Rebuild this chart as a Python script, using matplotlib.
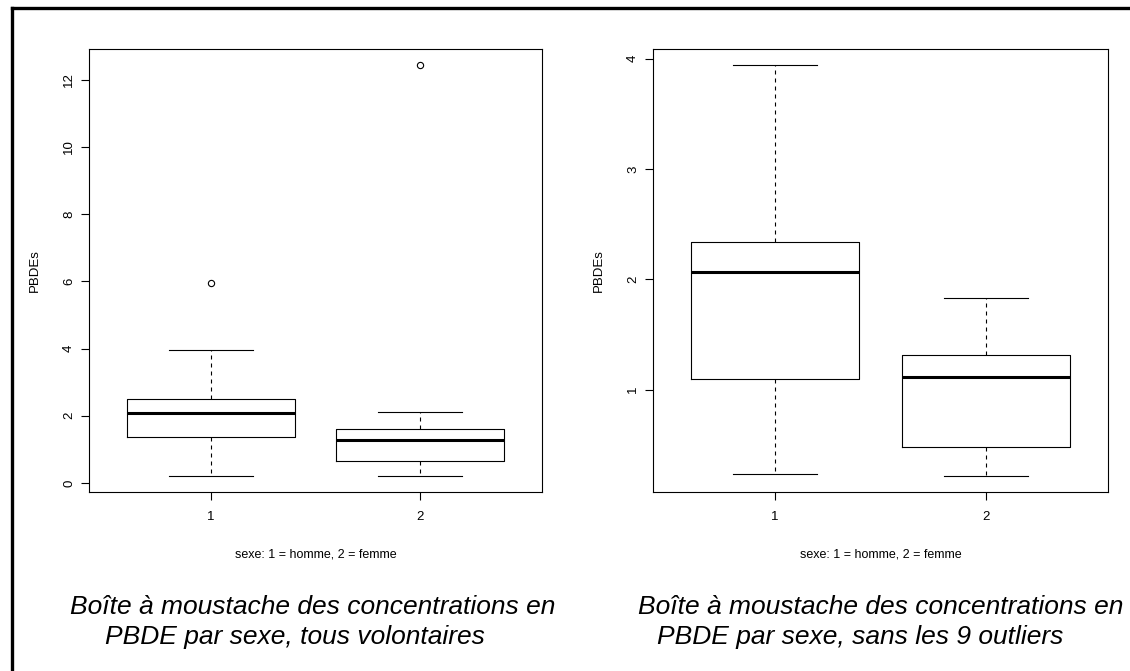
import matplotlib
matplotlib.use("Agg")
import matplotlib.pyplot as plt
from matplotlib.lines import Line2D

plt.rcParams['font.family'] = ['Liberation Sans', 'DejaVu Sans']

groups = [1, 2]
group_labels = ['1', '2']

# tous volontaires
all_low = [0.22, 0.22]
all_q1 = [1.36, 0.64]
all_med = [2.09, 1.28]
all_q3 = [2.49, 1.60]
all_high = [3.95, 2.12]
all_outliers = [[5.96], [12.43]]

# sans les 9 outliers
clean_low = [0.23, 0.22]
clean_q1 = [1.10, 0.48]
clean_med = [2.07, 1.11]
clean_q3 = [2.34, 1.31]
clean_high = [3.94, 1.83]
clean_outliers = [[], []]

all_yticks = [0, 2, 4, 6, 8, 10, 12]
clean_yticks = [1, 2, 3, 4]

ylabel = 'PBDEs'
xlabel = 'sexe: 1 = homme, 2 = femme'
caption_left = ['Boîte à moustache des concentrations en',
                'PBDE par sexe, tous volontaires']
caption_right = ['Boîte à moustache des concentrations en',
                 'PBDE par sexe, sans les 9 outliers']


def make_stats(low, q1, med, q3, high, fliers):
    stats = []
    for i in range(len(med)):
        stats.append({'whislo': low[i], 'q1': q1[i], 'med': med[i],
                      'q3': q3[i], 'whishi': high[i], 'fliers': fliers[i]})
    return stats


def draw_box(ax, stats, yticks):
    ax.bxp(stats, positions=groups, widths=0.8, capwidths=0.4,
           showfliers=True, patch_artist=False,
           boxprops=dict(color='black', linewidth=0.8),
           whiskerprops=dict(color='black', linewidth=0.8, linestyle=(0, (3.6, 3.6))),
           capprops=dict(color='black', linewidth=0.8),
           medianprops=dict(color='black', linewidth=2.2, solid_capstyle='butt'),
           flierprops=dict(marker='o', markerfacecolor='none', markeredgecolor='black',
                           markersize=4.5, markeredgewidth=0.8))
    # limites comme R (4% en plus)
    lo = min(min(s['whislo'] for s in stats), min([min(s['fliers']) for s in stats if len(s['fliers'])] or [99]))
    hi = max(max(s['whishi'] for s in stats), max([max(s['fliers']) for s in stats if len(s['fliers'])] or [-99]))
    span = hi - lo
    ax.set_ylim(lo - 0.04 * span, hi + 0.04 * span)
    ax.set_xlim(0.42, 2.58)
    ax.set_xticks(groups)
    ax.set_xticklabels(group_labels)
    ax.set_yticks(yticks)
    ax.set_yticklabels([str(t) for t in yticks])
    ax.tick_params(axis='y', labelrotation=90, length=6, width=0.8, pad=4, labelsize=9.5)
    ax.tick_params(axis='x', length=6, width=0.8, pad=8, labelsize=9.5)
    for lab in ax.get_yticklabels():
        lab.set_va('center')
    for sp in ax.spines.values():
        sp.set_linewidth(0.8)
    ax.set_xlabel(xlabel, fontsize=9)
    ax.set_ylabel(ylabel, fontsize=9.5)
    ax.xaxis.set_label_coords(0.5, -0.128)
    ax.yaxis.set_label_coords(-0.106, 0.5)


fig = plt.figure(figsize=(11.3, 6.71), dpi=100)

ax1 = fig.add_axes([89 / 1130, (671 - 492) / 671, 453 / 1130, 443 / 671])
draw_box(ax1, make_stats(all_low, all_q1, all_med, all_q3, all_high, all_outliers), all_yticks)

ax2 = fig.add_axes([653 / 1130, (671 - 492) / 671, 455 / 1130, 443 / 671])
draw_box(ax2, make_stats(clean_low, clean_q1, clean_med, clean_q3, clean_high, clean_outliers), clean_yticks)

# cadre noir (haut et gauche)
fig.add_artist(Line2D([12 / 1130, 1.0], [(671 - 8) / 671, (671 - 8) / 671],
                      color='black', linewidth=2.4, transform=fig.transFigure))
fig.add_artist(Line2D([12 / 1130, 12 / 1130], [0.0, (671 - 8) / 671],
                      color='black', linewidth=2.4, transform=fig.transFigure))

# légendes en italique
fig.text(70 / 1130, 1 - 607 / 671, caption_left[0], fontsize=19, style='italic', ha='left', va='center')
fig.text(105 / 1130, 1 - 637 / 671, caption_left[1], fontsize=19, style='italic', ha='left', va='center')
fig.text(638 / 1130, 1 - 607 / 671, caption_right[0], fontsize=19, style='italic', ha='left', va='center')
fig.text(657 / 1130, 1 - 637 / 671, caption_right[1], fontsize=19, style='italic', ha='left', va='center')

fig.savefig('out.png', dpi=100)
